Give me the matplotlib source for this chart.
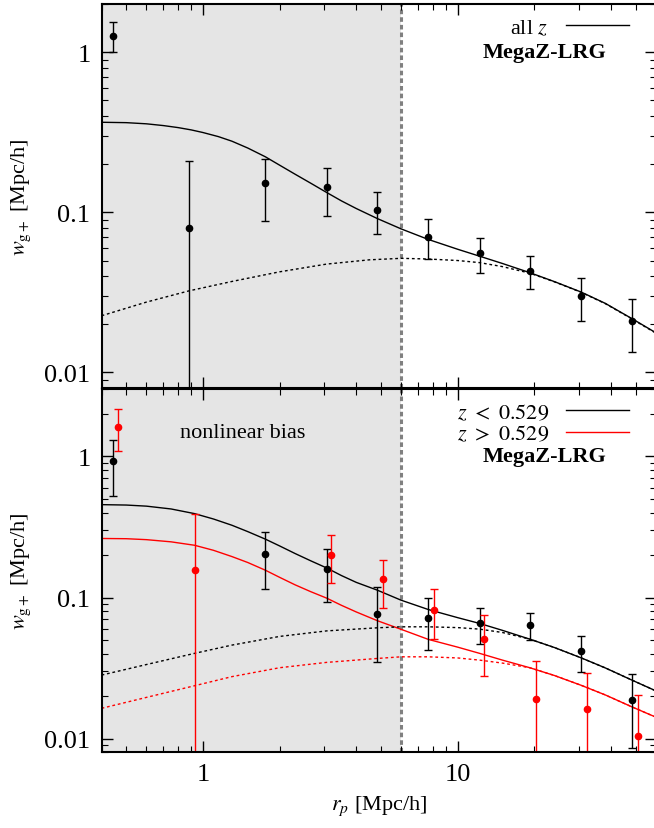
import numpy as np
import matplotlib
matplotlib.use("Agg")
import matplotlib.pyplot as plt
from matplotlib.ticker import FixedLocator, FixedFormatter, NullFormatter, LogLocator

plt.rcParams['font.family'] = ['Liberation Serif', 'DejaVu Serif']
plt.rcParams['mathtext.fontset'] = 'stix'

# ---- top panel: all z ----
top_rp = [0.443, 0.88, 1.76, 3.06, 4.84, 7.67, 12.2, 19.2, 30.5, 48.3]
top_w = [1.27, 0.080, 0.152, 0.143, 0.103, 0.0705, 0.0555, 0.0432, 0.0299, 0.021]
top_hi = [1.54, 0.208, 0.215, 0.188, 0.133, 0.0904, 0.069, 0.0531, 0.0387, 0.0287]
top_lo = [1.0, 0.001, 0.0887, 0.0953, 0.073, 0.051, 0.0418, 0.0332, 0.0211, 0.01345]

top_model_rp = [0.4, 0.5, 0.6, 0.7, 0.8, 0.9, 1.0, 1.15, 1.3, 1.5, 1.76, 2.0, 2.3, 2.65, 3.06, 3.5, 4.0, 4.84,
                6.0, 7.67, 10.0, 12.2, 15.0, 19.2, 24.0, 30.5, 38.0, 48.3, 60.0]
top_model_w = [0.365, 0.363, 0.357, 0.348, 0.338, 0.327, 0.315, 0.297, 0.278, 0.252, 0.222, 0.197, 0.173, 0.152,
               0.133, 0.1178, 0.1056, 0.0914, 0.0788, 0.0677, 0.0588, 0.0532, 0.0479, 0.042, 0.0369, 0.0318,
               0.027, 0.0217, 0.0177]
top_lin_rp = [0.4, 0.6, 0.88, 1.3, 2.0, 3.06, 4.5, 6.0, 7.67, 10.0, 12.2, 15.0, 19.2, 24.0, 30.5, 38.0, 48.3, 60.0]
top_lin_w = [0.0226, 0.0275, 0.0323, 0.037, 0.0425, 0.0475, 0.0505, 0.0516, 0.0511, 0.0500, 0.0485, 0.0458,
             0.0417, 0.0368, 0.0317, 0.0269, 0.0216, 0.0176]

# ---- bottom panel: z < 0.529 (black) and z > 0.529 (red) ----
lo_rp = [0.443, 1.76, 3.06, 4.84, 7.67, 12.2, 19.2, 30.5, 48.3]
lo_w = [0.922, 0.202, 0.158, 0.0767, 0.071, 0.0655, 0.0637, 0.0415, 0.0187]
lo_hi = [1.31, 0.29, 0.222, 0.118, 0.0989, 0.084, 0.0775, 0.0532, 0.0287]
lo_lo = [0.525, 0.114, 0.0927, 0.035, 0.0428, 0.0467, 0.0499, 0.0298, 0.00863]

hi_rp = [0.464, 0.927, 3.18, 5.08, 8.05, 12.7, 20.3, 32.1, 50.9]
hi_w = [1.62, 0.157, 0.201, 0.1356, 0.0822, 0.051, 0.019, 0.0163, 0.0104]
hi_hi = [2.17, 0.389, 0.276, 0.185, 0.1145, 0.0746, 0.0357, 0.0291, 0.0204]
hi_lo = [1.085, 0.001, 0.126, 0.0845, 0.0507, 0.0276, 0.001, 0.001, 0.001]

lo_model_rp = [0.4, 0.5, 0.6, 0.75, 0.927, 1.1, 1.3, 1.5, 1.76, 2.0, 2.3, 2.65, 3.06, 3.5, 4.0, 4.84, 6.0, 7.67,
               10.0, 12.2, 15.0, 19.2, 24.0, 30.5, 38.0, 48.3, 60.0]
lo_model_w = [0.455, 0.452, 0.444, 0.424, 0.393, 0.36, 0.325, 0.293, 0.259, 0.232, 0.205, 0.182, 0.162, 0.143,
              0.128, 0.1127, 0.0957, 0.0822, 0.072, 0.0655, 0.0585, 0.0507, 0.0442, 0.0374, 0.0317, 0.026,
              0.0218]
hi_model_rp = [0.4, 0.5, 0.6, 0.75, 0.927, 1.1, 1.3, 1.5, 1.76, 2.0, 2.3, 2.65, 3.06, 3.5, 4.0, 4.84, 6.0, 7.67,
               10.0, 12.2, 15.0, 19.2, 24.0, 30.5, 38.0, 48.3, 60.0]
hi_model_w = [0.262, 0.261, 0.257, 0.248, 0.2345, 0.216, 0.195, 0.177, 0.156, 0.139, 0.123, 0.11, 0.099, 0.088,
              0.079, 0.0685, 0.0595, 0.0505, 0.0445, 0.0402, 0.036, 0.0318, 0.028, 0.0239, 0.0204, 0.0168,
              0.0142]
lo_lin_rp = [0.4, 0.6, 0.927, 1.3, 2.0, 3.06, 4.84, 6.0, 7.67, 10.0, 12.2, 15.0, 19.2, 24.0, 30.5, 38.0, 48.3, 60.0]
lo_lin_w = [0.0282, 0.0335, 0.0402, 0.046, 0.053, 0.058, 0.061, 0.062, 0.062, 0.0612, 0.0597, 0.0565, 0.0507,
            0.0442, 0.0374, 0.0317, 0.026, 0.0218]
hi_lin_rp = [0.4, 0.6, 0.927, 1.3, 2.0, 3.06, 4.84, 6.0, 7.67, 10.0, 12.2, 15.0, 19.2, 24.0, 30.5, 38.0, 48.3, 60.0]
hi_lin_w = [0.0164, 0.0196, 0.0237, 0.0275, 0.0318, 0.0347, 0.037, 0.038, 0.038, 0.0373, 0.036, 0.0343, 0.0318,
            0.028, 0.0239, 0.0204, 0.0168, 0.0142]

rp_cut = 6.0
fs = 16


def errs(w, lo, hi):
    w = np.array(w)
    return [w - np.array(lo), np.array(hi) - w]


def style_axes(ax, ylim):
    ax.set_xscale('log')
    ax.set_yscale('log')
    ax.set_xlim(0.4, 60)
    ax.set_ylim(*ylim)
    ax.axvspan(0.4, rp_cut, color='#e5e5e5', zorder=0, lw=0)
    ax.axvline(rp_cut, color='#808080', lw=2.2, ls=(0, (1.5, 1)), zorder=1)
    ax.yaxis.set_major_locator(FixedLocator([0.01, 0.1, 1]))
    ax.yaxis.set_major_formatter(FixedFormatter(['0.01', '0.1', '1']))
    ax.yaxis.set_minor_locator(LogLocator(base=10, subs=np.arange(2, 10)))
    ax.yaxis.set_minor_formatter(NullFormatter())
    ax.xaxis.set_major_locator(FixedLocator([1, 10]))
    ax.xaxis.set_major_formatter(FixedFormatter(['1', '10']))
    ax.xaxis.set_minor_locator(LogLocator(base=10, subs=np.arange(2, 10)))
    ax.xaxis.set_minor_formatter(NullFormatter())
    ax.tick_params(which='both', direction='in', top=True, right=True, labelsize=19)
    ax.tick_params(which='major', length=8, width=1, pad=8)
    ax.tick_params(which='minor', length=4, width=0.8)
    for s in ax.spines.values():
        s.set_linewidth(1.5)
    ax.set_ylabel(r'$w_{\rm g+}$ [Mpc/h]', fontsize=fs, labelpad=8)


fig = plt.figure(figsize=(6.54, 8.29), dpi=100)
ax1 = fig.add_axes([0.1553, 0.5308, 0.8475, 0.4632])
ax2 = fig.add_axes([0.1553, 0.0913, 0.8475, 0.4382])

# top panel
style_axes(ax1, (0.008, 2.0))
ax1.plot(top_model_rp, top_model_w, color='black', lw=1, label=r'all $z$')
ax1.plot(top_lin_rp, top_lin_w, color='black', lw=1, ls=(0, (2, 2)))
ax1.errorbar(top_rp, top_w, yerr=errs(top_w, top_lo, top_hi), fmt='o', color='black',
             ms=4.5, capsize=3, elinewidth=1, capthick=1)
ax1.legend(loc='upper right', frameon=False, fontsize=fs, markerfirst=False,
           handlelength=2.8, borderaxespad=0.2, bbox_to_anchor=(0.975, 1.0))
ax1.text(0.80, 0.875, 'MegaZ-LRG', transform=ax1.transAxes, ha='center', va='center',
         fontsize=fs, fontweight='bold')
ax1.tick_params(labelbottom=False)

# bottom panel
style_axes(ax2, (0.008, 3.0))
ax2.plot(lo_model_rp, lo_model_w, color='black', lw=1, label=r'$z\ <\ 0.529$')
ax2.plot(hi_model_rp, hi_model_w, color='red', lw=1, label=r'$z\ >\ 0.529$')
ax2.plot(lo_lin_rp, lo_lin_w, color='black', lw=1, ls=(0, (2, 2)))
ax2.plot(hi_lin_rp, hi_lin_w, color='red', lw=1, ls=(0, (2, 2)))
ax2.errorbar(lo_rp, lo_w, yerr=errs(lo_w, lo_lo, lo_hi), fmt='o', color='black',
             ms=4.5, capsize=3, elinewidth=1, capthick=1)
ax2.errorbar(hi_rp, hi_w, yerr=errs(hi_w, hi_lo, hi_hi), fmt='o', color='red',
             ms=4.5, capsize=3, elinewidth=1, capthick=1)
ax2.legend(loc='upper right', frameon=False, fontsize=fs, markerfirst=False,
           handlelength=2.8, borderaxespad=0.2, bbox_to_anchor=(0.975, 1.0),
           labelspacing=0.05)
ax2.text(0.80, 0.815, 'MegaZ-LRG', transform=ax2.transAxes, ha='center', va='center',
         fontsize=fs, fontweight='bold')
ax2.text(0.255, 0.88, 'nonlinear bias', transform=ax2.transAxes, ha='center', va='center',
         fontsize=fs)
ax2.set_xlabel(r'$r_p$ [Mpc/h]', fontsize=fs, labelpad=6)

fig.savefig('out.png', dpi=100)
